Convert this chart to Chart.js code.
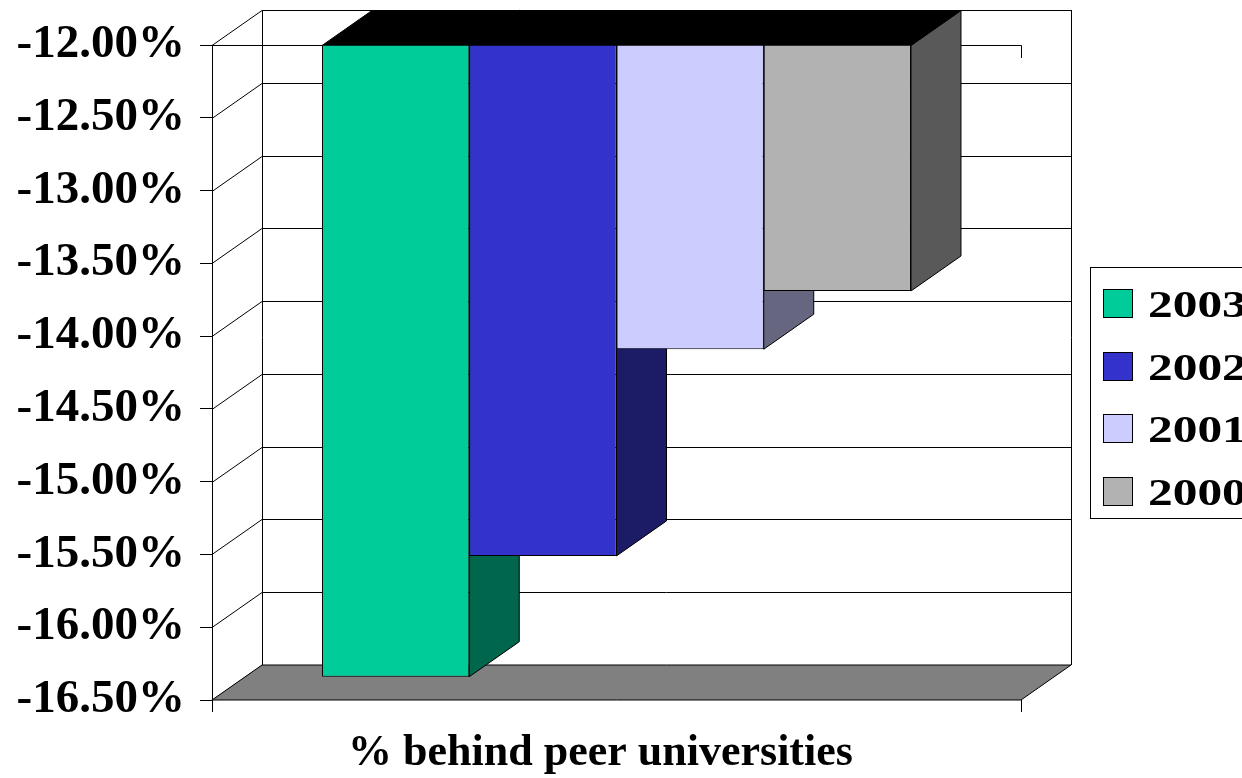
<!DOCTYPE html>
<html>
<head>
<meta charset="utf-8">
<script src="https://cdn.jsdelivr.net/npm/chart.js@4/dist/chart.umd.min.js"></script>
<style>
  html, body { margin: 0; padding: 0; background: #fff; }
  canvas { display: block; }
</style>
</head>
<body>
<canvas id="myChart" width="1242" height="778"></canvas>
<script>
let categories = ['% behind peer universities'];
let years = ['2003', '2002', '2001', '2000'];
let values = [-16.34, -15.51, -14.09, -13.69];
let frontColors = ['#00CC99', '#3333CC', '#CCCCFF', '#B2B2B2'];
let sideColors = ['#00664C', '#1C1C66', '#666680', '#595959'];
let yMin = -16.5, yMax = -12, yStep = 0.5;

let FONT = "'Liberation Serif', 'Times New Roman', serif";
let DX = 50, DY = -35;   // depth offset of the 3d look

function poly(ctx, pts, fill) {
    ctx.beginPath();
    ctx.moveTo(pts[0][0], pts[0][1]);
    for (let i = 1; i < pts.length; i++) ctx.lineTo(pts[i][0], pts[i][1]);
    ctx.closePath();
    if (fill) { ctx.fillStyle = fill; ctx.fill(); }
    ctx.stroke();
}

let threeD = {
    id: 'threeD',
    beforeDatasetsDraw(chart) {
        let ctx = chart.ctx;
        let a = chart.chartArea;
        let ys = chart.scales.y;
        ctx.save();
        ctx.strokeStyle = '#000';
        ctx.lineWidth = 1;

        // back wall + left wall lines
        ys.ticks.forEach(t => {
            let py = Math.round(ys.getPixelForValue(t.value)) + 0.5;
            ctx.beginPath();
            ctx.moveTo(a.left + DX, py + DY);
            ctx.lineTo(a.right + DX, py + DY);
            ctx.moveTo(a.left, py);
            ctx.lineTo(a.left + DX, py + DY);
            ctx.stroke();
        });
        ctx.beginPath();
        ctx.moveTo(a.left + DX + 0.5, a.top + DY);
        ctx.lineTo(a.left + DX + 0.5, a.bottom + DY);
        ctx.moveTo(a.right + DX + 0.5, a.top + DY);
        ctx.lineTo(a.right + DX + 0.5, a.bottom + DY);
        // front top edge
        ctx.moveTo(a.left, a.top + 0.5);
        ctx.lineTo(a.right + 0.5, a.top + 0.5);
        ctx.lineTo(a.right + 0.5, a.top + 13);
        ctx.stroke();

        // floor
        poly(ctx, [[a.left, a.bottom], [a.right, a.bottom],
                   [a.right + DX, a.bottom + DY], [a.left + DX, a.bottom + DY]], '#808080');

        // side and top faces of the bars
        chart.data.datasets.forEach((ds, i) => {
            let meta = chart.getDatasetMeta(i);
            meta.data.forEach(bar => {
                let p = bar.getProps(['x', 'y', 'base', 'width'], true);
                let l = p.x - p.width / 2, r = p.x + p.width / 2;
                let top = Math.max(Math.min(p.y, p.base), a.top);
                let bot = Math.min(Math.max(p.y, p.base), a.bottom);
                poly(ctx, [[r, top], [r + DX, top + DY], [r + DX, bot + DY], [r, bot]], sideColors[i]);
                poly(ctx, [[l, top], [r, top], [r + DX, top + DY], [l + DX, top + DY]], '#000');
            });
        });
        ctx.restore();
    },
    afterDraw(chart) {
        // legend box
        let ctx = chart.ctx;
        ctx.save();
        ctx.strokeStyle = '#000';
        ctx.lineWidth = 1;
        ctx.strokeRect(1090.5, 267.5, 170, 251);
        ctx.font = 'bold 38px ' + FONT;
        ctx.textBaseline = 'alphabetic';
        ctx.textAlign = 'left';
        chart.data.datasets.forEach((ds, i) => {
            let cy = 303 + i * 62.7;
            ctx.fillStyle = ds.backgroundColor;
            ctx.fillRect(1103.5, Math.round(cy - 14) + 0.5, 29, 28);
            ctx.strokeRect(1103.5, Math.round(cy - 14) + 0.5, 29, 28);
            ctx.fillStyle = '#000';
            ctx.save();
            ctx.translate(1148, cy + 14);
            ctx.scale(1.3, 1);
            ctx.fillText(ds.label, 0, 0);
            ctx.restore();
        });
        ctx.restore();
    }
};

let myChart = document.getElementById('myChart').getContext('2d');
let chart = new Chart(myChart, {
    type: 'bar',
    data: {
        labels: categories,
        datasets: years.map((y, i) => ({
            label: y,
            data: [values[i]],
            base: yMax,
            backgroundColor: frontColors[i],
            borderColor: '#000',
            borderWidth: 1,
            barPercentage: 1,
            categoryPercentage: 0.728
        }))
    },
    options: {
        responsive: false,
        animation: false,
        devicePixelRatio: 1,
        layout: { padding: { top: 45, right: 221, left: 0, bottom: 0 } },
        plugins: {
            legend: { display: false },
            title: { display: false },
            tooltip: { enabled: false }
        },
        scales: {
            x: {
                grid: { offset: true, drawOnChartArea: false, tickLength: 12, color: '#000' },
                border: { display: false },
                ticks: {
                    color: '#000',
                    font: { family: FONT, size: 44, weight: 'bold' },
                    labelOffset: -16,
                    padding: 15,
                    maxRotation: 0
                },
                afterFit(s) { s.height = 78; }
            },
            y: {
                min: yMin,
                max: yMax,
                grid: { drawOnChartArea: false, tickLength: 12, color: '#000' },
                border: { color: '#000', width: 1 },
                ticks: {
                    stepSize: yStep,
                    color: '#000',
                    padding: 15,
                    font: { family: FONT, size: 47, weight: 'bold' },
                    callback: v => v.toFixed(2) + '%'
                },
                afterFit(s) { s.width = 212; }
            }
        }
    },
    plugins: [threeD]
});
</script>
</body>
</html>
